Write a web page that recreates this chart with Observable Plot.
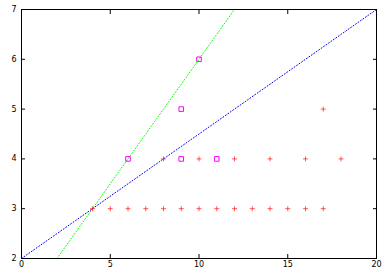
<!DOCTYPE html>
<html>
<head>
<meta charset="utf-8">
<script src="https://cdn.jsdelivr.net/npm/d3@7"></script>
<script src="https://cdn.jsdelivr.net/npm/@observablehq/plot@0.6"></script>
<style>
  html, body { margin: 0; padding: 0; background: #fff; }
</style>
</head>
<body>
<div id="chart"></div>
<script>
// Red plus points
const plusX = [4,5,6,7,8,9,10,11,12,13,14,15,16,17, 8,10,12,14,16,18, 17];
const plusY = [3,3,3,3,3,3,3,3,3,3,3,3,3,3, 4,4,4,4,4,4, 5];
// Magenta square points
const sqX = [6, 9, 11, 9, 10];
const sqY = [4, 4, 4, 5, 6];
// Green dotted line (endpoints)
const greenX = [2, 12];
const greenY = [2, 7];
// Blue dotted line (endpoints)
const blueX = [0, 20];
const blueY = [2, 7];
// Ticks
const xTicks = [0, 5, 10, 15, 20];
const yTicks = [2, 3, 4, 5, 6, 7];

const plusPts = plusX.map((x, i) => ({x, y: plusY[i]}));
const sqPts = sqX.map((x, i) => ({x, y: sqY[i]}));
const greenPts = greenX.map((x, i) => ({x, y: greenY[i]}));
const bluePts = blueX.map((x, i) => ({x, y: blueY[i]}));

const plusSymbol = {
  draw(context, size) {
    const s = Math.sqrt(size / Math.PI);
    context.moveTo(-s, 0); context.lineTo(s, 0);
    context.moveTo(0, -s); context.lineTo(0, s);
  }
};

const font = "DejaVu Sans, sans-serif";
const fmt = d3.format("d");

const chart = Plot.plot({
  width: 390,
  height: 273,
  marginLeft: 21,
  marginRight: 14,
  marginTop: 9,
  marginBottom: 15,
  style: {fontFamily: font, fontSize: "8px", color: "#000", background: "#fff"},
  x: {domain: [0, 20]},
  y: {domain: [2, 7]},
  marks: [
    Plot.axisX({ticks: xTicks, tickSize: -4, tickPadding: 7, tickFormat: fmt, label: null, anchor: "bottom", stroke: "#000"}),
    Plot.axisX({ticks: xTicks, tickSize: -4, tickFormat: () => "", label: null, anchor: "top", stroke: "#000"}),
    Plot.axisY({ticks: yTicks, tickSize: -4, tickPadding: 9, tickFormat: fmt, label: null, anchor: "left", stroke: "#000"}),
    Plot.axisY({ticks: yTicks, tickSize: -4, tickFormat: () => "", label: null, anchor: "right", stroke: "#000"}),
    Plot.line(greenPts, {x: "x", y: "y", stroke: "#00ff00", strokeWidth: 1, strokeDasharray: "1,2", clip: true}),
    Plot.line(bluePts, {x: "x", y: "y", stroke: "#0000ff", strokeWidth: 1, strokeDasharray: "1,2", clip: true}),
    Plot.dot(plusPts, {x: "x", y: "y", symbol: plusSymbol, r: 2.5, fill: "none", stroke: "#ff0000", strokeWidth: 0.8, strokeOpacity: 0.8}),
    Plot.dot(sqPts, {x: "x", y: "y", symbol: "square", r: 2.6, fill: "none", stroke: "#ff00ff", strokeWidth: 1}),
    Plot.frame({stroke: "#000"})
  ]
});
document.getElementById("chart").appendChild(chart);
</script>
</body>
</html>
